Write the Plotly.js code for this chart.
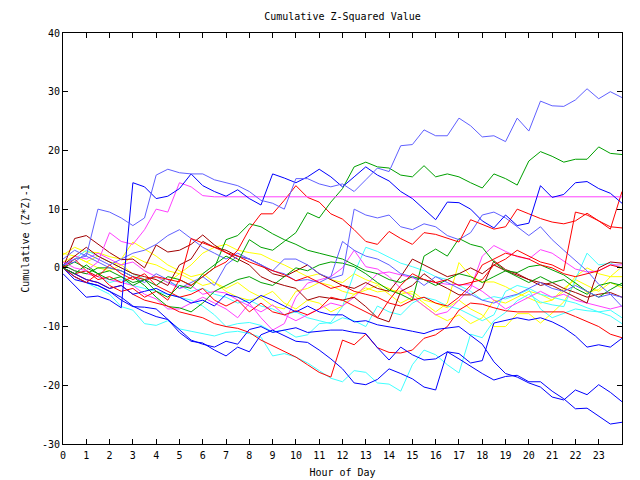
<!DOCTYPE html>
<html>
<head>
<meta charset="utf-8">
<script src="https://cdn.plot.ly/plotly-3.0.1.min.js"></script>
<style>html,body{margin:0;padding:0;background:#fff}#chart{width:640px;height:480px}</style>
</head>
<body>
<div id="chart"></div>
<script>
const HOURS = [0,0.5,1,1.5,2,2.5,3,3.5,4,4.5,5,5.5,6,6.5,7,7.5,8,8.5,9,9.5,10,10.5,11,11.5,12,12.5,13,13.5,14,14.5,15,15.5,16,16.5,17,17.5,18,18.5,19,19.5,20,20.5,21,21.5,22,22.5,23,23.5,24];
const HOUR_TICKS = [0,1,2,3,4,5,6,7,8,9,10,11,12,13,14,15,16,17,18,19,20,21,22,23];
const VALUE_TICKS = [-30,-20,-10,0,10,20,30,40];

const lightBlue1 = [0.5,1.5,2,10,9.5,8.5,7.2,8.5,15.8,16.8,
 16.2,16,16,15,14.5,14,13,11.5,11,10,
 15.2,15.2,14.3,13.8,14.3,13,15,17,16.4,20.8,
 21,23.5,22.5,22.5,25.5,24.2,22.3,22.5,21.5,25.5,
 23.3,28.4,27.6,27.5,28.6,30.5,28.8,30,29];
const blue1 = [-1,-3,-5,-4.8,-5.5,-6.8,14.5,13.8,11.8,12.2,
 13.5,16,14,13,12.2,13.3,11.8,10.7,16,15.3,
 14.5,15.5,16.8,15.5,13.8,15.5,17.2,15.8,14.8,13,
 11.8,10,8.2,11.2,11.1,10,8,6.8,9,7.2,
 7.6,14,12,12.5,14.5,14.7,13.5,12.7,11];
const magenta1 = [1,0,-0.5,1,6,4.5,4,6.5,10,9.5,
 14.5,13.8,12.3,12.1,12.1,12.1,12.1,12.1,12.1,12.1,
 12.1,12.1,12.1,12.1,12.1,12.1,12.1,12.1,12.1,12.1,
 12.1,12.1,12.1,12.1,12.1,12.1,12.1,12.1,12.1,12.1,
 12.1,12.1,12.1,12.1,12.1,12.1,12.1,12.1,12.1];
const green1 = [0,-1,0.5,-1,-2,-1.5,-3,-2,-4,-5,
 -3,-3.5,-1,0.5,2,1,4.8,3.5,3,4.5,
 6,9.4,8.5,11.2,13.5,17.2,18,17.2,17,15.8,
 15.5,17.4,15.5,16,15.5,14.5,13.6,16,15.2,14.1,
 18.2,19.8,19,18,18.5,18.5,20.6,19.5,19.3];
const red1 = [0,-1.5,-2.5,-1,-3,-4,-3.5,-5,-4,-5.5,
 -2,-3,-1.5,0,1,3,6.6,9.2,9.2,11.5,
 14,12,11.2,9.2,8.3,6.5,4.5,4,6.2,5,
 4,6,5.7,5,4.4,8.2,7.4,6.6,7,10,
 9.2,8.4,7.8,7.5,8,9.3,8,6.6,13];
const red2 = [0,1.5,-0.5,-1.5,0.5,-1,-2,-1,-3,-4,
 -5,-4.5,-3.5,-5.5,-6.5,-5.5,-7.5,-6,-7.5,-8,
 -7.3,-8,-7,-5,-5.5,-6.5,-7.5,-8.5,-5.5,-3,
 -1,-2,-2.5,-2,-3,-2.5,-2,0.5,1.5,3,
 2,1,0.5,-0.5,9.5,9,8,7,6.8];
const red3 = [0,-1,-2,-2.5,-3.5,-3,-4.5,-5.5,-6,-6.5,
 -7.5,-8,-8.5,-9.5,-10,-10.3,-11,-12.3,-13.3,-14.2,
 -15.2,-16.5,-17.8,-18.6,-12.3,-13.1,-11.3,-13.6,-14.4,-14.5,
 -14,-12,-11.4,-10,-7.2,-6,-6.2,-6.8,-7.3,-7.5,
 -7.5,-7.5,-7.5,-7.5,-8.3,-9.1,-10,-11.3,-11.9];
const red4 = [0,-1,-0.5,-2,-1.5,-2.5,-1.5,-2,-1.5,-2,
 -2.4,5,4.3,3.5,2.6,2,1,0.3,-0.5,-1.2,
 -2.2,-1.5,-2.5,-3.5,-3,-4,-4.5,-5,-6,-6.5,
 -5.5,-5,-6,-6.5,-5,-3,0.5,1.5,2.5,2,
 1.5,0.5,0,-1,-1.5,-1,-0.5,0.5,0];
const cyan1 = [0,-1.5,-2.5,-3.5,-4.5,-6.6,-7.2,-9.5,-9.8,-9,
 -10.4,-10.8,-11.2,-11.6,-11,-10.8,-11.2,-11.8,-15,-14.6,
 -15.2,-16.2,-17.5,-18.8,-19.4,-17.5,-17.8,-19.6,-19.8,-21,
 -16.5,-14,-14.8,-16.5,-17.9,-11.3,-11.9,-9,-7.6,-5.6,
 -4.5,-5.8,-6.3,-6.6,-2,2.5,0.5,0.8,0];
const cyan2 = [0,-1,-0.5,-1.5,-2.5,-2,-3,-3.5,-4,-4.5,
 -5,-5.5,-6.5,-8,-10,-9.5,-9.3,-9.8,-10.9,-10.6,
 -11.8,-11.4,-9.5,-9.3,-6.6,-0.9,3.5,2.8,1.8,0.8,
 0.2,-0.5,-1.5,-2,-3,-4,-5.5,-4.9,-5.3,-4.6,
 -3.7,-7,-8.5,-7.8,-7,-7.3,-7.5,-7.2,-8.5];
const cyan3 = [0,1.5,3,2,1,0,-1,-2,-1.5,-2.5,
 -3,-4,-3.5,-4.5,-5,-6,-5.5,-6.5,-7,-8,
 -7.5,-8.5,-9,-9.5,-8.5,-9,-10,-6.5,-7.5,-8,
 -6,-5,-5.5,-6.5,-7,-8,-9,-8,-4,-3,
 -3.5,-4.5,-5,-5.5,-6,-6.8,-7.5,-8.2,-9.5];
const darkRed1 = [0,5,5.5,4,2.6,1.4,1.5,0,3.9,2.7,
 3,4,5.6,3.9,2.6,1.5,0.5,-1.5,-2.4,-3,
 -3.5,-5.5,-4.9,-5.2,-5.5,-5,-6.6,-8.5,-9.2,-4,
 -3,-1,-2.5,-3.5,-4.6,-4.6,-3.4,1.2,-0.3,-1,
 -2,-3,-2.5,-3.5,-4.2,-5,-4.5,-4.2,-5];
const darkRed2 = [0.5,2,3.5,2,1,0,-1,-1.5,-2,-3,
 0.5,1.5,4.5,3.5,3,2,1.5,0.5,-1,-1.5,
 -0.5,0.5,-1,-2,-3,-3.5,-2.5,-3.5,-4,-1.5,
 1.5,0.5,-0.5,-1.5,-1,0,-1,0.5,-0.5,-1.2,
 -2,-2.5,-3,-4,-5,-6,0,1,0.8];
const yellow1 = [2.2,3.5,2.7,2.6,1.9,1.5,4.4,3.2,2,0.5,
 -0.5,-1.5,-1,-2.5,-3.5,-2.5,-4,-5,-4,-6,
 -7,-5.5,-6,-7.5,-6.5,-4.5,-3.8,-3,-4.5,-6,
 -5,-6.5,-8,-9,-8,-9.5,-8.5,-5.5,-6,-5,
 -4,-4.5,-5.5,-3.5,-2,-3,-4,-2.5,-3.4];
const yellow2 = [1,2,1,0,-0.5,0.5,-1,-2,-1.5,-2.5,
 -1,-2,-3,-2.5,-4,-5,-5.5,-5,-6.5,-7,
 -4,-3.5,-2.5,-3,-4,-4.5,-3.4,-4.1,-3.8,-4,
 -4.5,-6,-7.5,-6,0.9,-1.4,-2.4,-2.4,-3.2,-4.3,
 -5.2,-6,-5.5,-4,-1.5,0,-1,-1.5,0.2];
const yellow3 = [2.5,2,1,2,1,0.5,2,1,0.5,-0.5,
 -1,0.5,2.5,3.5,4,3,2.6,2.3,1.3,0.5,
 -0.5,-1.5,-1,-2,-2.5,-1,-2,-2.8,-3.5,-4.5,
 -4,-5.5,-6,-6.8,-5.5,-7,-8,-10,-10,-7.8,
 -7.8,-9.4,-7.7,-5.8,-2.5,-4.2,-3.7,-1.5,-1.5];
const green2 = [0.5,-0.5,-1,0,0,-0.5,-1.5,-3,-5,-6.6,
 -6.8,-7.5,-6,-4,-3,-2,-1.5,-2.5,-3,-1.5,
 0,-0.5,0.5,1,0.8,0.2,-1,-2.5,-3.8,-4.5,
 -5.5,2,3.2,2,5,4,3.5,1,-0.5,-0.8,
 0.2,0.5,-0.3,-1.2,-2.6,-4,-5,-3.7,-2.6];
const green3 = [0,1,0,-1,-0.5,-1.5,-2.5,-2,-3,-1.5,
 -2,-3,-1.5,0,4.8,5.5,7.5,7,5.8,4.8,
 4,3,2.5,2,1.5,0.5,-0.5,-1,-2,-2.5,
 -1.5,-2,-3,-2,-1,-1.5,-2.5,-1.5,-0.5,-1.5,
 -2.5,-1.5,-2.5,-2,-3.5,-4.5,-3,-2.5,-3];
const lightBlue2 = [0.5,1,2.5,1.5,0.5,1.5,2.5,3,4,5.5,
 6.5,5,3.5,2.5,1.5,2.5,1.5,0.5,-0.5,1.5,
 1.5,0.5,-1,-1.8,-1.2,10,9,8.5,9,7,
 6.5,7.5,7,5.5,4.8,6,9,9.5,8.5,7,
 5.5,7,4.8,3,1.2,-0.5,-2.8,-4.5,-6.6];
const lightBlue3 = [1.5,3,2,1,0,-0.5,-1.5,-2.5,-1,-2,
 -3.5,-2.5,-1.5,-3,0.5,2,1.5,0.5,-0.5,-1,
 -2.2,-2,-2.5,-1.5,4.5,3,2,1.5,0.5,-1,
 -1.5,-3,-1.5,-2.5,-3.5,-4.5,-5.5,-6,-5,-4.5,
 -3.5,-2.5,-3.5,-4,-3,-4,-5,-4.5,-5];
const blue2 = [0,-1,-2,-2.5,-3.5,-3,-4.5,-4,-3.5,-4.5,
 -5,-6,-5.5,-6.5,-4.5,-5,-6,-4.7,-5.5,-6.5,
 -7.5,-6.5,-7.5,-8,-8,-9.2,-9,-9.7,-10,-10.4,
 -10.8,-11.2,-10.5,-10.2,-10,-11.5,-13,-16,-18,-18.6,
 -19.6,-20.3,-22,-22.5,-20.8,-21.6,-19.9,-21.2,-22.8];
const blue3 = [0,-2,-2.5,-3,-4,-5.5,-6.6,-6.7,-7,-8.8,
 -10.5,-12.3,-13,-13.5,-12.5,-13,-10.5,-10,-11,-10.6,
 -10.2,-11,-10.8,-10.6,-10.6,-11,-11.2,-13.6,-15.7,-13.5,
 -14.8,-15.7,-15.5,-14.3,-15.5,-16.8,-18,-19.1,-18.5,-18.3,
 -19.4,-19.4,-21,-22.3,-24,-23.9,-25.2,-26.6,-26.3];
const blue4 = [0,-1.5,-2.5,-3,-4,-5,-6.5,-7.5,-8.3,-8.8,
 -11,-12.5,-12.8,-14,-15,-13.5,-14.3,-11.4,-10.6,-11.5,
 -12.5,-12.7,-14,-15.5,-17.2,-19.6,-19.9,-19,-17.2,-18,
 -18.9,-20.3,-20.8,-14.3,-14.6,-16.2,-15.8,-9.4,-9,-8.5,
 -8.9,-8.5,-9.2,-10.2,-11.6,-13.5,-13.1,-13.5,-12];
const magenta2 = [0.5,-0.5,-1,-1.5,-2,-2.5,-3,-4.5,-5.3,-7,
 -7,-6,-5,-6,-7,-8.5,-6,-8.5,-10.6,-9.5,
 -5,-2.6,-2,-1.5,0,3,0.2,-0.2,-1.5,-3.5,
 -5,-6.5,-8,-7.5,-5.5,-3.5,2,3.8,2.8,1.9,
 1.5,3.1,2.5,1.2,-0.2,-0.7,-0.5,0.5,0.5];
const magenta3 = [0,2,1.5,2.5,1.5,0.5,1,-0.5,-1.5,-2.5,
 -3.5,-3,-4.5,-4,-4.3,-5.5,-6.5,-7.5,-6.3,-8,
 -9,-8,-7,-6,-6.5,-5,-3,-1,-0.7,-1.2,
 -1.7,-2,-2.5,-2.8,-2.9,-2.9,-4,-5.5,-7,-6,
 -5,-4,-5,-4.5,-5.5,-6,-6.5,-7,-6.5];

const RED='#ff0000', GREEN='#00a000', BLUE='#0000ff', LBLUE='#6060ff',
      MAGENTA='#ff40ff', CYAN='#40ffff', DRED='#a00000', YELLOW='#ffff00';

const series = [
  [yellow3,YELLOW],[yellow2,YELLOW],[yellow1,YELLOW],
  [cyan3,CYAN],[cyan2,CYAN],[cyan1,CYAN],
  [magenta3,MAGENTA],[magenta2,MAGENTA],
  [darkRed2,DRED],[darkRed1,DRED],
  [green3,GREEN],[green2,GREEN],
  [lightBlue3,LBLUE],[lightBlue2,LBLUE],
  [red4,RED],[red3,RED],[red2,RED],
  [blue4,BLUE],[blue3,BLUE],[blue2,BLUE],
  [red1,RED],[green1,GREEN],[magenta1,MAGENTA],
  [blue1,BLUE],[lightBlue1,LBLUE]
];

const traces = series.map(([y,c]) => ({
  x: HOURS, y: y, type:'scatter', mode:'lines',
  line:{color:c, width:1}, hoverinfo:'skip'
}));

const FONT = {family:'DejaVu Sans Mono', size:10, color:'#000'};

const axisCommon = {
  ticks:'inside', ticklen:5, tickwidth:1, tickcolor:'#000',
  mirror:'allticks', showline:true, linecolor:'#000', linewidth:1,
  showgrid:false, zeroline:false, tickfont:FONT
};

const layout = {
  width:640, height:480,
  margin:{l:63, r:18, t:33, b:36, pad:0},
  paper_bgcolor:'#fff', plot_bgcolor:'#fff',
  font:FONT,
  showlegend:false,
  title:{text:'Cumulative Z-Squared Value', x:0.5, xanchor:'center', xref:'paper',
         y:1-16/480, yref:'container', yanchor:'middle', font:FONT},
  xaxis: Object.assign({}, axisCommon, {
    range:[0,24], tickmode:'array', tickvals:HOUR_TICKS, ticktext:HOUR_TICKS.map(String),
    ticklabelstandoff:2,
    title:{text:'Hour of Day', standoff:8, font:FONT}
  }),
  yaxis: Object.assign({}, axisCommon, {
    range:[-30,40], tickmode:'array', tickvals:VALUE_TICKS, ticktext:VALUE_TICKS.map(String),
    title:{text:'Cumulative (Z*Z)-1', standoff:10, font:FONT}
  })
};

Plotly.newPlot('chart', traces, layout, {staticPlot:true, displayModeBar:false});
</script>
</body>
</html>
